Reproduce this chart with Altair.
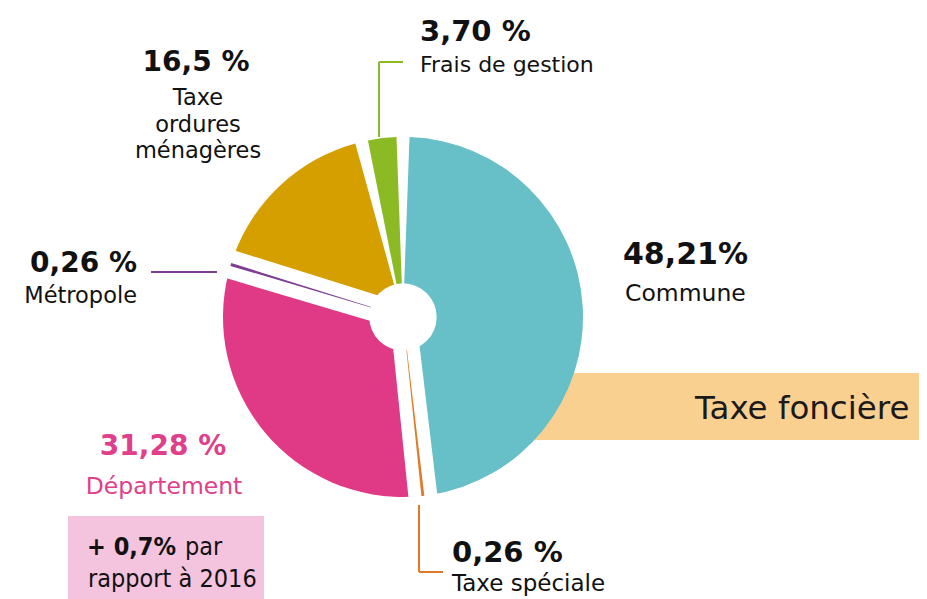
import math
import altair as alt
import pandas as pd

# ---- data -------------------------------------------------------------
names = ["Commune", "Taxe spéciale", "Département", "Métropole",
         "Taxe ordures ménagères", "Frais de gestion"]
values = [48.21, 0.26, 31.28, 0.26, 16.5, 3.70]
pct_labels = ["48,21%", "0,26 %", "31,28 %", "0,26 %", "16,5 %", "3,70 %"]
colors = ["#67C0C7", "#E07A28", "#E03A87", "#7D3E92", "#D59F00", "#8BBA25"]
band_label = "Taxe foncière"
note_bold = "+ 0,7%"
note_rest = ["par", "rapport à 2016"]

df = pd.DataFrame({"name": names, "value": values, "idx": list(range(len(names)))})
one = pd.DataFrame({"k": [0]})

# ---- style ------------------------------------------------------------
CX, CY = 395, 309      # pie centre (chart px)
R = 180                # outer radius
GAP = 13               # linear gap between slices
HOLE = 38
INK = "#111111"
PINK_TXT = "#E0408A"
BOLD_FONT = "DejaVu Sans"
FONT = "DejaVu Sans"
NARROW = "DejaVu Sans Condensed, Roboto Condensed, Roboto, sans-serif"

color = alt.Color("name:N", scale=alt.Scale(domain=names, range=colors), legend=None)
theta = alt.Theta("value:Q", stack=True)
order = alt.Order("idx:Q")
is_small = alt.condition("datum.value < 1", alt.value(1), alt.value(0))

base = alt.Chart(df)

slices = base.mark_arc(radius=R, padAngle=GAP / R).encode(
    theta=theta, order=order, color=color, detail="name:N",
    x=alt.value(CX), y=alt.value(CY))

sliver_gap = base.mark_arc(radius=R, fill="white", stroke="white",
                           strokeWidth=26, strokeJoin="round").encode(
    theta=theta, order=order, detail="name:N",
    x=alt.value(CX), y=alt.value(CY), opacity=is_small)

slivers = base.mark_arc(radius=R).encode(
    theta=theta, order=order, color=color, detail="name:N",
    x=alt.value(CX), y=alt.value(CY), opacity=is_small)

hole = alt.Chart(one).mark_circle(size=math.pi * HOLE * HOLE, color="white",
                                  opacity=1).encode(x=alt.value(CX), y=alt.value(CY))


def rect(x, x2, y, y2, fill):
    return alt.Chart(one).mark_rect(color=fill).encode(
        x=alt.value(x), x2=alt.value(x2), y=alt.value(y), y2=alt.value(y2))


def line(x, y, x2, y2, c):
    return alt.Chart(one).mark_rule(color=c, strokeWidth=2).encode(
        x=alt.value(x), y=alt.value(y), x2=alt.value(x2), y2=alt.value(y2))


def txt(s, x, y, size, weight="normal", c=INK, align="left", font=FONT, lh=None):
    kw = dict(fontSize=size, fontWeight=weight, color=c, align=align,
              baseline="alphabetic", font=font)
    if lh:
        kw["lineHeight"] = lh
    return alt.Chart(one).mark_text(**kw).encode(
        x=alt.value(x), y=alt.value(y), text=alt.value(s))


band = rect(527, 911, 365, 432, "#FAD090")
box = rect(60, 256, 508, 591, "#F4C3DD")

leaders = [
    line(371, 129, 371, 54, colors[5]), line(371, 54, 395, 54, colors[5]),
    line(143, 264, 209, 264, colors[3]),
    line(411, 497, 411, 564, colors[1]), line(411, 564, 435, 564, colors[1]),
]

texts = [
    # Frais de gestion
    txt(pct_labels[5], 412, 33, 29, "bold", font=BOLD_FONT),
    txt(names[5], 412, 64, 22),
    # Taxe ordures ménagères
    txt(pct_labels[4], 188, 63, 28, "bold", align="center", font=BOLD_FONT),
    txt(names[4].split(" "), 190, 97, 22.5, align="center", lh=26.5),
    # Métropole
    txt(pct_labels[3], 129, 264, 28, "bold", align="right", font=BOLD_FONT),
    txt(names[3], 129, 295, 22.5, align="right"),
    # Commune
    txt(pct_labels[0], 615, 256, 30, "bold", font=BOLD_FONT),
    txt(names[0], 617, 293, 23.5),
    # Département
    txt(pct_labels[2], 155, 447, 28, "bold", c=PINK_TXT, align="center", font=BOLD_FONT),
    txt(names[2], 156, 486, 23.5, c=PINK_TXT, align="center"),
    # Taxe spéciale
    txt(pct_labels[1], 444, 554, 29, "bold", font=BOLD_FONT),
    txt(names[1], 444, 583, 23),
    # band label
    txt(band_label, 687, 411, 32.5, "normal", c="#1a1a1a"),
    # note box
    txt(note_bold, 79, 547, 25, "bold", font=NARROW),
    txt(note_rest[0], 177, 547, 25, font=NARROW),
    txt(note_rest[1], 80, 579, 25, font=NARROW),
]

chart = alt.layer(
    band, box, slices, sliver_gap, slivers, hole, *leaders, *texts
).properties(
    width=911, height=591, padding=0,
    autosize=alt.AutoSizeParams(type="none"),
).configure_view(stroke=None)

chart.save("out.html", embed_options={"renderer": "svg", "actions": False})
